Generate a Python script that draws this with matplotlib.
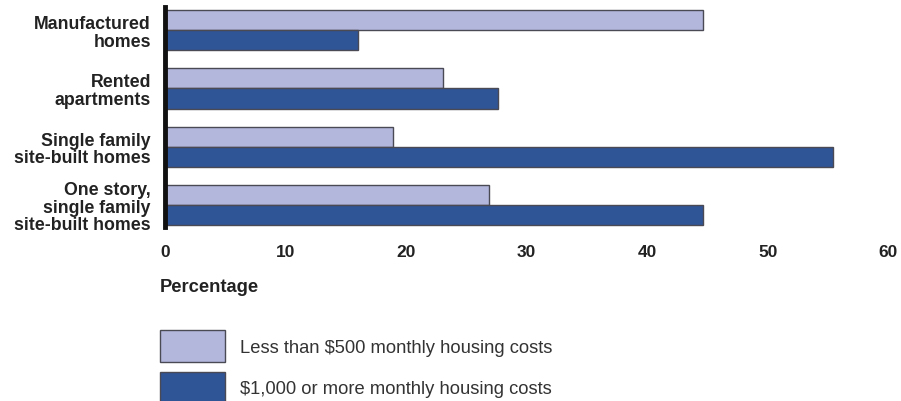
import matplotlib
matplotlib.use("Agg")
import matplotlib.pyplot as plt
import numpy as np

# housing types, top to bottom
categories = [
    "Manufactured\nhomes",
    "Rented\napartments",
    "Single family\nsite-built homes",
    "One story,\nsingle family\nsite-built homes",
]
under_500 = [44.6, 23.1, 18.9, 26.9]
over_1000 = [16.0, 27.6, 55.4, 44.6]
series_labels = [
    "Less than $500 monthly housing costs",
    "$1,000 or more monthly housing costs",
]
xticks = [0, 10, 20, 30, 40, 50, 60]

LIGHT = "#b3b7dc"
DARK = "#2f5596"
EDGE = "#4a4a55"

plt.rcParams["font.family"] = ["Liberation Sans", "DejaVu Sans"]

fig = plt.figure(figsize=(9.01, 4.02), dpi=100)
ax = fig.add_axes([0.183, 0.433, 0.803, 0.547])

y = np.arange(len(categories))
h = 0.345
b1 = ax.barh(y - h / 2, under_500, height=h, color=LIGHT, edgecolor=EDGE, linewidth=1.0)
b2 = ax.barh(y + h / 2, over_1000, height=h, color=DARK, edgecolor=EDGE, linewidth=1.0)

ax.set_xlim(0, 60)
ax.set_ylim(3.38, -0.4)
ax.set_yticks(y)
ax.set_yticklabels(categories, fontsize=12.8, fontweight="bold", color="#222222",
                   linespacing=1.05)
ax.set_xticks(xticks)
ax.set_xticklabels([str(t) for t in xticks], fontsize=12.5, fontweight="bold",
                   color="#222222")
ax.tick_params(axis="both", length=0)
ax.tick_params(axis="x", pad=12)
ax.tick_params(axis="y", pad=10)

for side in ["top", "right", "bottom"]:
    ax.spines[side].set_visible(False)
ax.spines["left"].set_linewidth(3.5)
ax.spines["left"].set_color("#111111")

fig.text(0.177, 0.285, "Percentage", fontsize=13.2, fontweight="bold",
         color="#222222", ha="left", va="center")

leg = fig.legend([b1, b2], series_labels, loc="upper left",
                 bbox_to_anchor=(0.178, 0.176), frameon=False, fontsize=13.2,
                 handlelength=3.5, handleheight=2.25, labelspacing=0.55,
                 handletextpad=0.85, borderaxespad=0, borderpad=0)
for t in leg.get_texts():
    t.set_color("#333333")

fig.savefig("out.png", dpi=100)
